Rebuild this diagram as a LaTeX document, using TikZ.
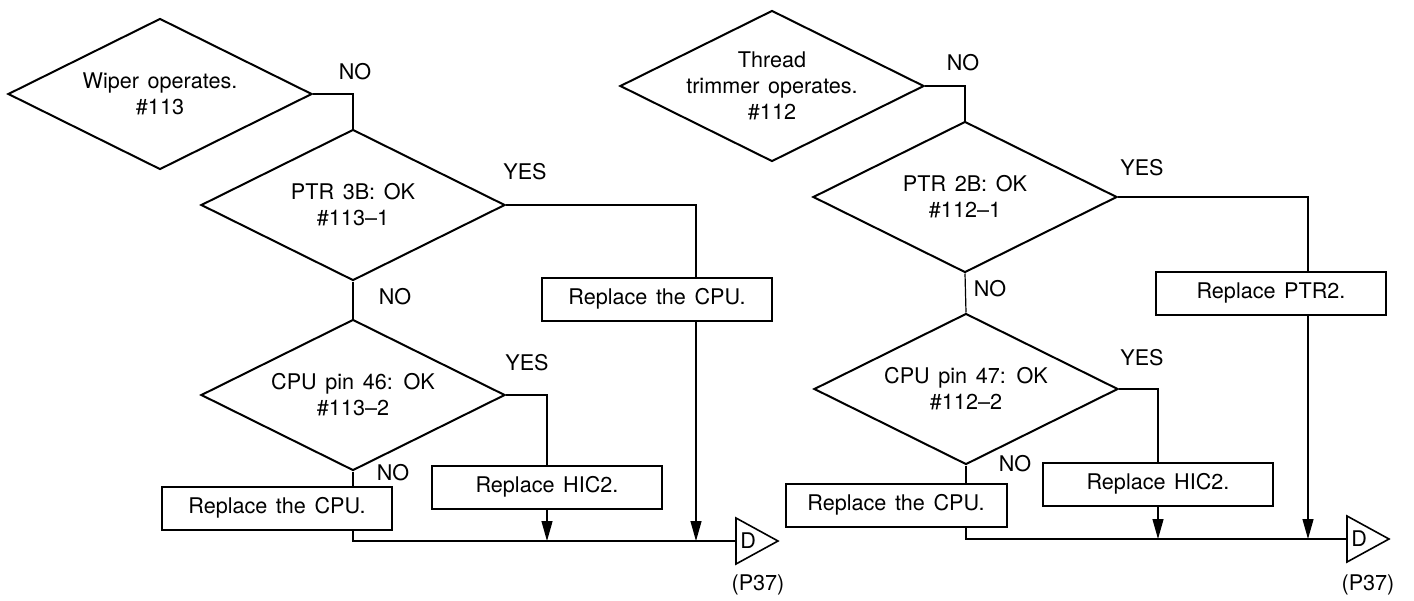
\documentclass[tikz,border=0pt]{standalone}
\usepackage{fontspec}
\setmainfont{TeX Gyre Heros}
\usetikzlibrary{arrows.meta,shapes.geometric}

\begin{document}
\begin{tikzpicture}[x=0.5pt,y=-0.5pt,
  font={\fontsize{10.8}{13}\selectfont\spaceskip=.4em\relax},
  dec/.style={diamond, draw, line width=1pt, inner sep=0pt, minimum width=152pt, minimum height=75.5pt},
  qtext/.style={align=center, inner sep=0pt},
  act/.style={rectangle, draw, line width=1pt, minimum width=115pt, minimum height=21.5pt},
  conn/.style={line width=0.6pt},
  down/.style={conn, -{Triangle[length=10pt,width=5.5pt]}},
  yn/.style={inner sep=0pt},
  offp/.style={inner xsep=2pt, inner ysep=0pt, minimum height=23pt, anchor=west}]
\useasboundingbox (0,0) rectangle (1414,600);
\node[dec, label={[qtext]center:Wiper operates.\\\#113}] (wiper) at (160,94) {};
\node[dec, label={[qtext]center:PTR 3B: OK\\\#113--1}] (ptrB) at (353,205) {};
\node[dec, label={[qtext]center:CPU pin 46: OK\\\#113--2}] (pinL) at (353,395) {};
\node[act] (cpuA) at (657,299) {Replace the CPU.};
\node[act] (hicA) at (547,487) {Replace HIC2.};
\node[act] (cpuB) at (277,508) {Replace the CPU.};
\node[offp] (offA) at (736,541) {D};
\node (pA) at (758,585) {(P37)};
\node[dec, label={[qtext]center:Thread\\trimmer operates.\\\#112}] (thread) at (772,86) {};
\node[dec, label={[qtext]center:PTR 2B: OK\\\#112--1}] (ptrA) at (965,197) {};
\node[dec, label={[qtext]center:CPU pin 47: OK\\\#112--2}] (pinR) at (966,389) {};
\node[act] (ptrRep) at (1271,293) {Replace PTR2.};
\node[act] (hicB) at (1158,484) {Replace HIC2.};
\node[act, minimum width=110.5pt] (cpuC) at (896,505) {Replace the CPU.};
\node[offp] (offB) at (1347,539) {D};
\node (pB) at (1368,585) {(P37)};
\node[yn] (noA) at (355,72) {NO};
\node[yn] (yesA) at (525,172) {YES};
\node[yn] (noB) at (395,297) {NO};
\node[yn] (yesB) at (527,363) {YES};
\node[yn] (noC) at (393,473) {NO};
\node[yn] (noD) at (963,63) {NO};
\node[yn] (yesC) at (1142,168) {YES};
\node[yn] (noE) at (990,289) {NO};
\node[yn] (yesD) at (1142,358) {YES};
\node[yn] (noF) at (1015,464) {NO};
\coordinate (inA) at ([xshift=19.5pt]cpuA.north);
\coordinate (outA) at ([xshift=19.5pt]cpuA.south);
\coordinate (inB) at ([xshift=18.5pt]ptrRep.north);
\coordinate (outB) at ([xshift=18.5pt]ptrRep.south);
\draw[line width=0.8pt] ([yshift=11.5pt]offA.west) -- ([xshift=21pt]offA.west) -- ([yshift=-11.5pt]offA.west) -- cycle;
\draw[line width=0.8pt] ([yshift=11.5pt]offB.west) -- ([xshift=21pt]offB.west) -- ([yshift=-11.5pt]offB.west) -- cycle;
\draw[conn] (wiper.east) -| (ptrB.north);
\draw[conn] (ptrB.east) -| (inA);
\draw[down] (outA) -- (outA |- offA.west);
\draw[conn] (ptrB.south) -- (pinL.north);
\draw[conn] (pinL.east) -| (hicA.north);
\draw[down] (hicA.south) -- (hicA.south |- offA.west);
\draw[conn] (pinL.south) -- (pinL.south |- cpuB.north);
\draw[conn] (pinL.south |- cpuB.south) |- (offA.west);
\draw[conn] (thread.east) -| (ptrA.north);
\draw[conn] (ptrA.east) -| (inB);
\draw[down] (outB) -- (outB |- offB.west);
\draw[conn] (ptrA.south) -- (pinR.north);
\draw[conn] (pinR.east) -| (hicB.north);
\draw[down] (hicB.south) -- (hicB.south |- offB.west);
\draw[conn] (pinR.south) -- (pinR.south |- cpuC.north);
\draw[conn] (pinR.south |- cpuC.south) |- (offB.west);
\end{tikzpicture}
\end{document}
